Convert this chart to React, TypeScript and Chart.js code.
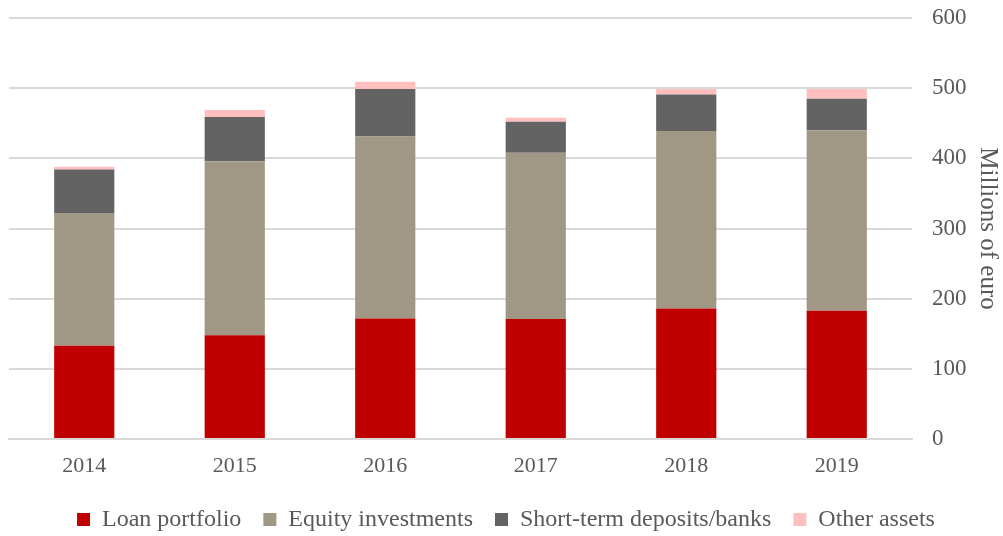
import React, { useEffect, useRef } from "react";
import { Chart, registerables } from "chart.js";

Chart.register(...registerables);

const categories = ["2014", "2015", "2016", "2017", "2018", "2019"];
const loanPortfolio = [133, 148, 172, 171, 186, 183];
const equityInvestments = [189, 248, 259, 237, 253, 257];
const shortTermDeposits = [62, 63, 68, 44, 52, 45];
const otherAssets = [4, 10, 10, 6, 8, 14];
const yTicks = [0, 100, 200, 300, 400, 500, 600];

const FONT = "'Liberation Serif', 'DejaVu Serif', serif";
const TEXT = "#595959";

export default function App() {
  const ref = useRef<HTMLCanvasElement | null>(null);

  useEffect(() => {
    if (!ref.current) return;
    const chart = new Chart(ref.current, {
      type: "bar",
      data: {
        labels: categories,
        datasets: [
          { label: "Loan portfolio", data: loanPortfolio, backgroundColor: "#c00000" },
          { label: "Equity investments", data: equityInvestments, backgroundColor: "#a09884" },
          { label: "Short-term deposits/banks", data: shortTermDeposits, backgroundColor: "#636363" },
          { label: "Other assets", data: otherAssets, backgroundColor: "#ffbfbf" },
        ],
      },
      options: {
        animation: false,
        responsive: false,
        maintainAspectRatio: false,
        layout: { padding: { top: 18, left: 9, right: 0, bottom: -5.5 } },
        datasets: { bar: { categoryPercentage: 1, barPercentage: 0.4, borderWidth: 0 } },
        plugins: {
          legend: {
            position: "bottom",
            labels: {
              boxWidth: 13,
              boxHeight: 13,
              padding: 22,
              color: TEXT,
              font: { family: FONT, size: 24 },
            },
          },
          tooltip: { enabled: false },
        },
        scales: {
          x: {
            stacked: true,
            grid: { display: false },
            border: { display: true, color: "#d9d9d9", width: 2 },
            ticks: { color: TEXT, font: { family: FONT, size: 22 }, padding: 6 },
          },
          y: {
            stacked: true,
            position: "right",
            min: 0,
            max: 600,
            afterBuildTicks: (axis: any) => {
              axis.ticks = yTicks.map((v) => ({ value: v }));
            },
            afterFit: (axis: any) => {
              axis.width = 91;
              axis.paddingTop = 0;
              axis.paddingBottom = 0;
            },
            grid: { color: "#d9d9d9", lineWidth: 2, drawTicks: false },
            border: { display: false },
            ticks: { color: TEXT, font: { family: FONT, size: 23 }, padding: 20 },
            title: {
              display: true,
              text: "Millions of euro",
              color: TEXT,
              font: { family: FONT, size: 25 },
              padding: { top: 0, bottom: 0 },
            },
          },
        },
      },
    });
    return () => chart.destroy();
  }, []);

  return (
    <div style={{ position: "fixed", left: 0, top: 0, width: 1003, height: 536, background: "#fff" }}>
      <canvas ref={ref} width={1003} height={536} style={{ width: 1003, height: 536 }} />
    </div>
  );
}
